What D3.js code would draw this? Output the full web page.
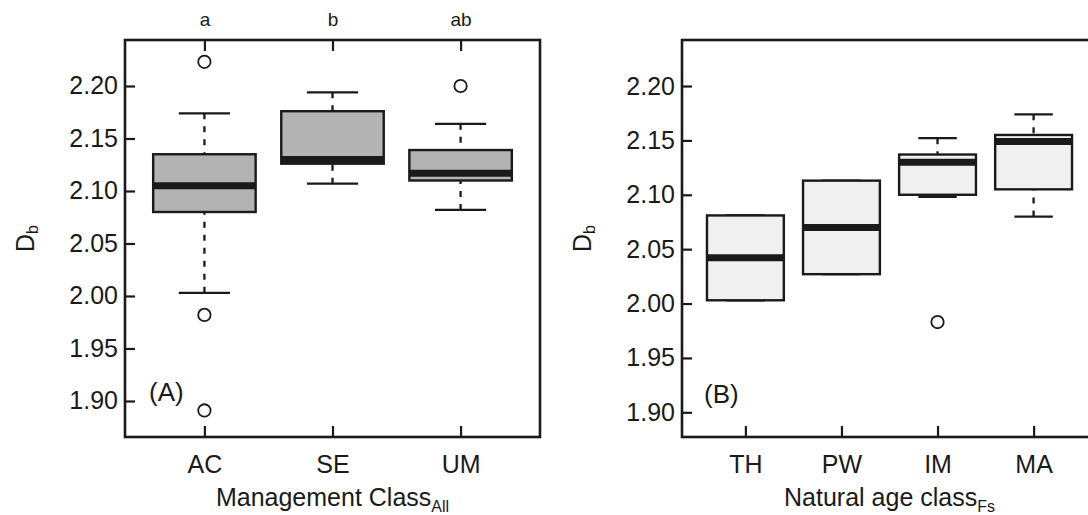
<!DOCTYPE html>
<html>
<head>
<meta charset="utf-8">
<script src="https://cdn.jsdelivr.net/npm/d3@7"></script>
<style>
  html, body { margin: 0; padding: 0; background: #fff; }
  svg { display: block; }
  text { font-family: "Liberation Sans", Arial, Helvetica, sans-serif; fill: #1a1a1a; }
</style>
</head>
<body>
<svg id="chart" width="1088" height="515"></svg>
<script>
// ---------- data ----------
const yTicks = [1.90, 1.95, 2.00, 2.05, 2.10, 2.15, 2.20];

const leftCategories = ["AC", "SE", "UM"];
const leftLetters = ["a", "b", "ab"];
const leftLowerWhisker = [2.003, 2.107, 2.082];
const leftQ1 = [2.080, 2.126, 2.110];
const leftMedian = [2.105, 2.130, 2.117];
const leftQ3 = [2.135, 2.176, 2.139];
const leftUpperWhisker = [2.174, 2.194, 2.164];
const leftOutliers = [[2.223, 1.982, 1.891], [], [2.200]];

const rightCategories = ["TH", "PW", "IM", "MA"];
const rightLowerWhisker = [2.003, 2.027, 2.098, 2.080];
const rightQ1 = [2.003, 2.027, 2.100, 2.105];
const rightMedian = [2.042, 2.070, 2.130, 2.149];
const rightQ3 = [2.081, 2.113, 2.137, 2.155];
const rightUpperWhisker = [2.081, 2.113, 2.152, 2.174];
const rightOutliers = [[], [], [1.983], []];

// ---------- drawing ----------
const svg = d3.select("#chart");
svg.append("rect").attr("width", 1088).attr("height", 515).attr("fill", "#fff");

const INK = "#1a1a1a";

function panel(opts) {
  const { left, right, top, bottom, yDomain, cats, lw, q1, med, q3, uw, outs,
          fill, letters, panelLabel, labelPos, xTitle, xSub, yTitleX } = opts;
  const g = svg.append("g");
  const n = cats.length;
  const x = d3.scaleLinear().domain([0.5 - 0.04 * n, n + 0.5 + 0.04 * n]).range([left, right]);
  const y = d3.scaleLinear().domain(yDomain).range([bottom, top]);
  const unit = x(2) - x(1);
  const boxHalf = unit * 0.4;
  const capHalf = boxHalf * 0.5;

  // y axis (ticks inward)
  const ya = g.append("g").attr("transform", `translate(${left},0)`)
    .call(d3.axisLeft(y).tickValues(yTicks).tickFormat(d3.format(".2f"))
      .tickSize(-10).tickPadding(7));
  ya.select(".domain").remove();
  ya.selectAll(".tick line").attr("stroke", INK).attr("stroke-width", 2.2);
  ya.selectAll(".tick text").attr("font-size", 25).attr("fill", INK)
    .attr("font-family", '"Liberation Sans", Arial, sans-serif');

  // x axis bottom (ticks inward)
  const xa = g.append("g").attr("transform", `translate(0,${bottom})`)
    .call(d3.axisBottom(x).tickValues(d3.range(1, n + 1)).tickFormat(i => cats[i - 1])
      .tickSize(-11).tickPadding(18));
  xa.select(".domain").remove();
  xa.selectAll(".tick line").attr("stroke", INK).attr("stroke-width", 2.2);
  xa.selectAll(".tick text").attr("font-size", 25).attr("fill", INK)
    .attr("font-family", '"Liberation Sans", Arial, sans-serif');

  // optional top axis with letters
  if (letters) {
    const ta = g.append("g").attr("transform", `translate(0,${top})`)
      .call(d3.axisTop(x).tickValues(d3.range(1, n + 1)).tickFormat(i => letters[i - 1])
        .tickSize(-11).tickPadding(14));
    ta.select(".domain").remove();
    ta.selectAll(".tick line").attr("stroke", INK).attr("stroke-width", 2.2);
    ta.selectAll(".tick text").attr("font-size", 19).attr("fill", INK)
      .attr("font-family", '"Liberation Sans", Arial, sans-serif');
  }

  const idx = d3.range(n);
  const bx = g.append("g");
  // whiskers (dashed), drawn from whisker end toward the hinge
  bx.selectAll("line.wl").data(idx).join("line")
    .attr("x1", i => x(i + 1)).attr("x2", i => x(i + 1))
    .attr("y1", i => y(lw[i])).attr("y2", i => y(q1[i]))
    .attr("stroke", INK).attr("stroke-width", 2.3).attr("stroke-dasharray", "6,7");
  bx.selectAll("line.wu").data(idx).join("line")
    .attr("x1", i => x(i + 1)).attr("x2", i => x(i + 1))
    .attr("y1", i => y(uw[i])).attr("y2", i => y(q3[i]))
    .attr("stroke", INK).attr("stroke-width", 2.3).attr("stroke-dasharray", "6,7");
  // caps
  [lw, uw].forEach(arr => {
    bx.append("g").selectAll("line").data(idx).join("line")
      .attr("x1", i => x(i + 1) - capHalf).attr("x2", i => x(i + 1) + capHalf)
      .attr("y1", i => y(arr[i])).attr("y2", i => y(arr[i]))
      .attr("stroke", INK).attr("stroke-width", 2.3);
  });
  // boxes
  bx.append("g").selectAll("rect").data(idx).join("rect")
    .attr("x", i => x(i + 1) - boxHalf).attr("width", boxHalf * 2)
    .attr("y", i => y(q3[i])).attr("height", i => y(q1[i]) - y(q3[i]))
    .attr("fill", fill).attr("stroke", INK).attr("stroke-width", 2.4);
  // medians
  bx.append("g").selectAll("line").data(idx).join("line")
    .attr("x1", i => x(i + 1) - boxHalf).attr("x2", i => x(i + 1) + boxHalf)
    .attr("y1", i => y(med[i])).attr("y2", i => y(med[i]))
    .attr("stroke", INK).attr("stroke-width", 7);
  // outliers
  const pts = idx.flatMap(i => outs[i].map(v => ({ i, v })));
  bx.append("g").selectAll("circle").data(pts).join("circle")
    .attr("cx", d => x(d.i + 1)).attr("cy", d => y(d.v)).attr("r", 6.2)
    .attr("fill", "none").attr("stroke", INK).attr("stroke-width", 1.8);

  // frame
  g.append("rect").attr("x", left).attr("y", top)
    .attr("width", right - left).attr("height", bottom - top)
    .attr("fill", "none").attr("stroke", INK).attr("stroke-width", 2.6);

  // panel label
  g.append("text").attr("x", labelPos[0]).attr("y", labelPos[1])
    .attr("font-size", 26).text(panelLabel);

  // x title with subscript
  const xt = g.append("text").attr("x", (left + right) / 2).attr("y", 506)
    .attr("text-anchor", "middle").attr("font-size", 25);
  xt.append("tspan").text(xTitle);
  xt.append("tspan").attr("font-size", 16).attr("dy", 6).text(xSub);

  // y title D_b
  const yt = g.append("text")
    .attr("transform", `translate(${yTitleX},${(top + bottom) / 2}) rotate(-90)`)
    .attr("text-anchor", "middle").attr("font-size", 25);
  yt.append("tspan").text("D");
  yt.append("tspan").attr("font-size", 16).attr("dy", 4).text("b");
}

panel({
  left: 125, right: 540, top: 40, bottom: 437,
  yDomain: [1.8657, 2.2438],
  cats: leftCategories, lw: leftLowerWhisker, q1: leftQ1, med: leftMedian,
  q3: leftQ3, uw: leftUpperWhisker, outs: leftOutliers,
  fill: "#b3b3b3", letters: leftLetters,
  panelLabel: "(A)", labelPos: [149, 401],
  xTitle: "Management Class", xSub: "All", yTitleX: 34
});

panel({
  left: 682, right: 1097, top: 40, bottom: 437,
  yDomain: [1.8773, 2.2423],
  cats: rightCategories, lw: rightLowerWhisker, q1: rightQ1, med: rightMedian,
  q3: rightQ3, uw: rightUpperWhisker, outs: rightOutliers,
  fill: "#f0f0f0", letters: null,
  panelLabel: "(B)", labelPos: [704, 403],
  xTitle: "Natural age class", xSub: "Fs", yTitleX: 591
});
</script>
</body>
</html>
